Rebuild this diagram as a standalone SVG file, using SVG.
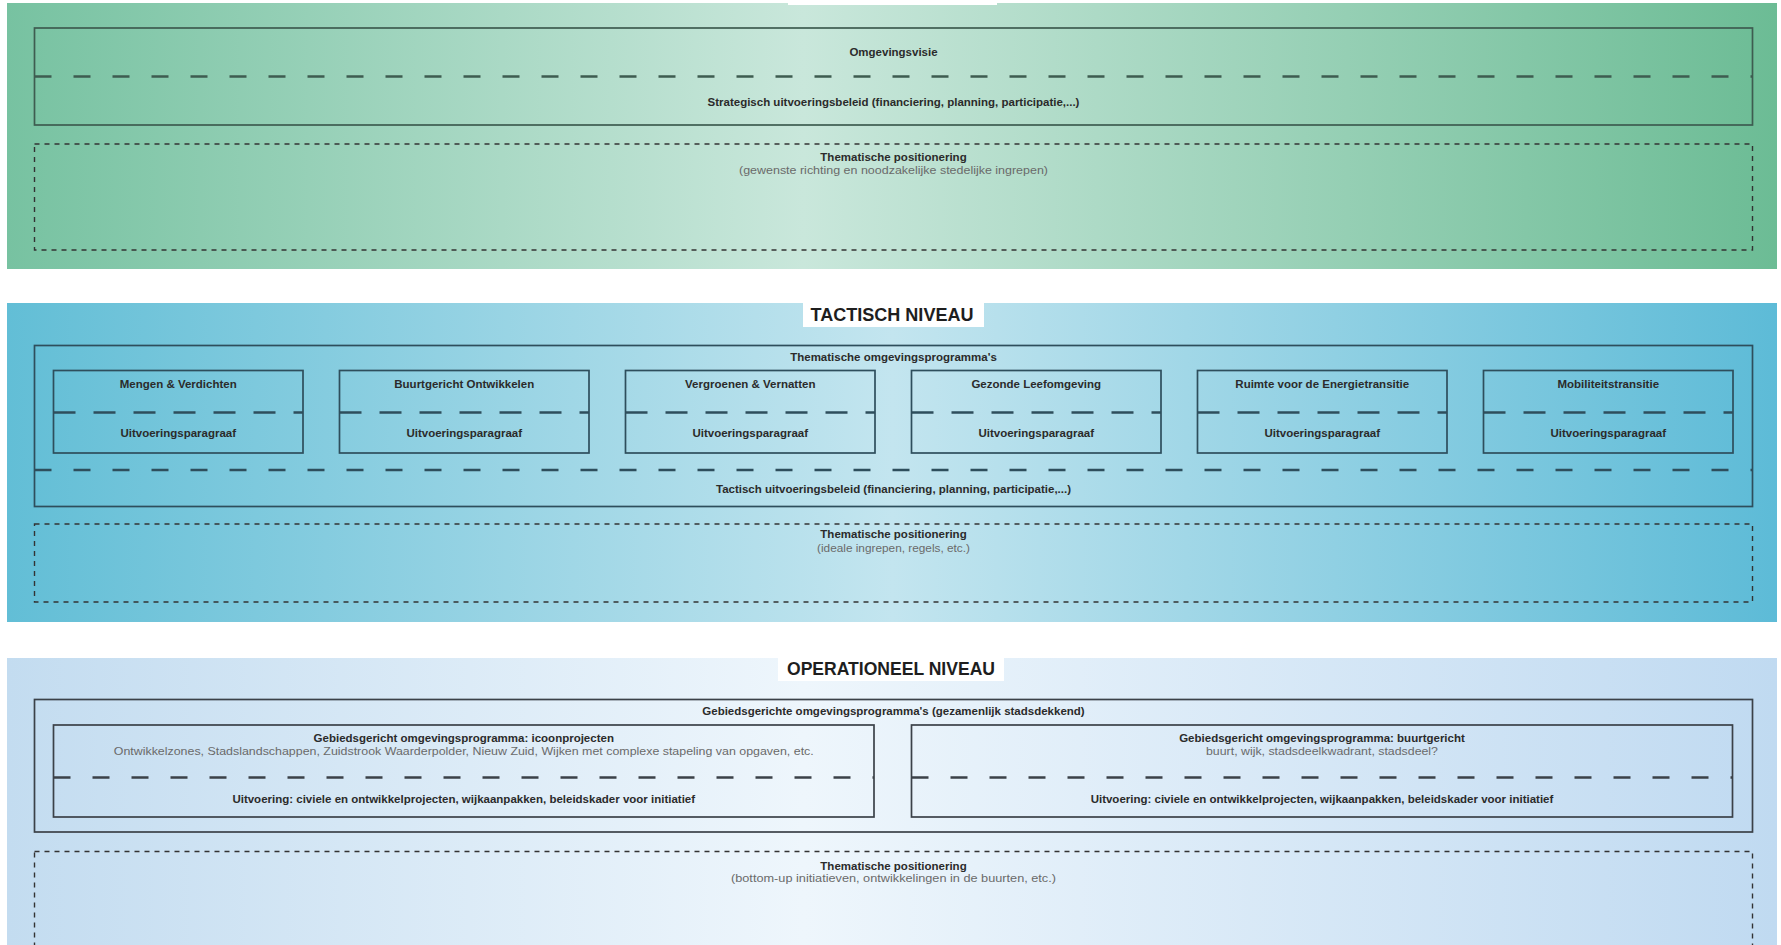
<svg xmlns="http://www.w3.org/2000/svg" width="1781" height="945" viewBox="0 0 1781 945">
<defs>
<linearGradient id="gS" x1="0" y1="0" x2="1" y2="0">
<stop offset="0" stop-color="#77c2a1"/>
<stop offset="0.45" stop-color="#c9e7db"/>
<stop offset="1" stop-color="#6cbc95"/>
</linearGradient>
<linearGradient id="gT" x1="0" y1="0" x2="1" y2="0">
<stop offset="0" stop-color="#62bed6"/>
<stop offset="0.5" stop-color="#c3e5ef"/>
<stop offset="1" stop-color="#5dbbd7"/>
</linearGradient>
<linearGradient id="gO" x1="0" y1="0" x2="1" y2="0">
<stop offset="0" stop-color="#c3dcf0"/>
<stop offset="0.45" stop-color="#eef6fc"/>
<stop offset="1" stop-color="#c0daf1"/>
</linearGradient>
</defs>
<style>
text{font-family:"Liberation Sans",Arial,sans-serif;text-anchor:middle}
.t{font-size:11.5px;font-weight:bold;fill:#2b2b2b}
.s{font-size:11.5px;font-weight:normal;fill:#6a6a6a}
.h{font-size:19px;font-weight:bold;fill:#1e1e1e}
.box{fill:none;stroke-width:1.7}
.sep{fill:none;stroke-width:2.6;stroke-dasharray:17 22}
.sep2{fill:none;stroke-width:2.4;stroke-dasharray:22 18}
.dot{fill:none;stroke:#333;stroke-width:1.4;stroke-dasharray:5 5}
.lbl{fill:#ffffff}
.cs{stroke:#3e5c50}
.ct{stroke:#2e4e5c}
.co{stroke:#3b4148}
</style>

<g id="strategisch">
<rect x="7" y="3" width="1770" height="266" fill="url(#gS)"/>
<rect class="lbl" x="788" y="-6" width="209" height="11"/>
<g id="omgevingsvisie">
<rect class="box cs" x="34.5" y="28" width="1718" height="97"/>
<line class="sep cs" x1="34.5" y1="76.5" x2="1752.5" y2="76.5"/>
<text class="t" x="893.5" y="56">Omgevingsvisie</text>
<text class="t" x="893.5" y="106">Strategisch uitvoeringsbeleid (financiering, planning, participatie,...)</text>
</g>
<g id="strategisch-positionering">
<rect class="dot" x="34.5" y="144" width="1718" height="106"/>
<text class="t" x="893.5" y="161">Thematische positionering</text>
<text class="s" x="893.5" y="174" textLength="309" lengthAdjust="spacingAndGlyphs">(gewenste richting en noodzakelijke stedelijke ingrepen)</text>
</g>
</g>

<g id="tactisch">
<rect x="7" y="303" width="1770" height="319" fill="url(#gT)"/>
<rect class="lbl" x="803" y="303" width="181" height="24"/>
<text class="h" x="892" y="321" textLength="163" lengthAdjust="spacingAndGlyphs">TACTISCH NIVEAU</text>
<g id="thematische-omgevingsprogrammas">
<rect class="box ct" x="34.5" y="345.5" width="1718" height="161"/>
<text class="t" x="893.5" y="361">Thematische omgevingsprogramma's</text>
<line class="sep ct" x1="34.5" y1="470" x2="1752.5" y2="470"/>
<text class="t" x="893.5" y="492.5">Tactisch uitvoeringsbeleid (financiering, planning, participatie,...)</text>
</g>
<g id="mengen-verdichten">
<rect class="box ct" x="53.5" y="370.5" width="249.5" height="82.5"/>
<line class="sep2 ct" x1="53.5" y1="412.5" x2="303" y2="412.5"/>
<text class="t" x="178.25" y="388">Mengen &amp; Verdichten</text>
<text class="t" x="178.25" y="437">Uitvoeringsparagraaf</text>
</g>
<g id="buurtgericht-ontwikkelen">
<rect class="box ct" x="339.5" y="370.5" width="249.5" height="82.5"/>
<line class="sep2 ct" x1="339.5" y1="412.5" x2="589" y2="412.5"/>
<text class="t" x="464.25" y="388">Buurtgericht Ontwikkelen</text>
<text class="t" x="464.25" y="437">Uitvoeringsparagraaf</text>
</g>
<g id="vergroenen-vernatten">
<rect class="box ct" x="625.5" y="370.5" width="249.5" height="82.5"/>
<line class="sep2 ct" x1="625.5" y1="412.5" x2="875" y2="412.5"/>
<text class="t" x="750.25" y="388">Vergroenen &amp; Vernatten</text>
<text class="t" x="750.25" y="437">Uitvoeringsparagraaf</text>
</g>
<g id="gezonde-leefomgeving">
<rect class="box ct" x="911.5" y="370.5" width="249.5" height="82.5"/>
<line class="sep2 ct" x1="911.5" y1="412.5" x2="1161" y2="412.5"/>
<text class="t" x="1036.25" y="388">Gezonde Leefomgeving</text>
<text class="t" x="1036.25" y="437">Uitvoeringsparagraaf</text>
</g>
<g id="energietransitie">
<rect class="box ct" x="1197.5" y="370.5" width="249.5" height="82.5"/>
<line class="sep2 ct" x1="1197.5" y1="412.5" x2="1447" y2="412.5"/>
<text class="t" x="1322.25" y="388">Ruimte voor de Energietransitie</text>
<text class="t" x="1322.25" y="437">Uitvoeringsparagraaf</text>
</g>
<g id="mobiliteitstransitie">
<rect class="box ct" x="1483.5" y="370.5" width="249.5" height="82.5"/>
<line class="sep2 ct" x1="1483.5" y1="412.5" x2="1733" y2="412.5"/>
<text class="t" x="1608.25" y="388">Mobiliteitstransitie</text>
<text class="t" x="1608.25" y="437">Uitvoeringsparagraaf</text>
</g>
<g id="tactisch-positionering">
<rect class="dot" x="34.5" y="524" width="1718" height="78"/>
<text class="t" x="893.5" y="538">Thematische positionering</text>
<text class="s" x="893.5" y="552" textLength="153" lengthAdjust="spacingAndGlyphs">(ideale ingrepen, regels, etc.)</text>
</g>
</g>

<g id="operationeel">
<rect x="7" y="658" width="1770" height="300" fill="url(#gO)"/>
<rect class="lbl" x="778" y="657" width="226" height="24"/>
<text class="h" x="891" y="675" textLength="208" lengthAdjust="spacingAndGlyphs">OPERATIONEEL NIVEAU</text>
<g id="gebiedsgerichte-programmas">
<rect class="box co" x="34.5" y="699.5" width="1718" height="132.5"/>
<text class="t" x="893.5" y="715">Gebiedsgerichte omgevingsprogramma's (gezamenlijk stadsdekkend)</text>
</g>
<g id="icoonprojecten">
<rect class="box co" x="53.5" y="725" width="820.5" height="92"/>
<line class="sep co" x1="53.5" y1="777.5" x2="874" y2="777.5"/>
<text class="t" x="463.75" y="742">Gebiedsgericht omgevingsprogramma: icoonprojecten</text>
<text class="s" x="463.75" y="755" textLength="700" lengthAdjust="spacingAndGlyphs">Ontwikkelzones, Stadslandschappen, Zuidstrook Waarderpolder, Nieuw Zuid, Wijken met complexe stapeling van opgaven, etc.</text>
<text class="t" x="463.75" y="803">Uitvoering: civiele en ontwikkelprojecten, wijkaanpakken, beleidskader voor initiatief</text>
</g>
<g id="buurtgericht">
<rect class="box co" x="911.5" y="725" width="821" height="92"/>
<line class="sep co" x1="911.5" y1="777.5" x2="1732.5" y2="777.5"/>
<text class="t" x="1322" y="742">Gebiedsgericht omgevingsprogramma: buurtgericht</text>
<text class="s" x="1322" y="755" textLength="232" lengthAdjust="spacingAndGlyphs">buurt, wijk, stadsdeelkwadrant, stadsdeel?</text>
<text class="t" x="1322" y="803">Uitvoering: civiele en ontwikkelprojecten, wijkaanpakken, beleidskader voor initiatief</text>
</g>
<g id="operationeel-positionering">
<rect class="dot" x="34.5" y="851.5" width="1718" height="120"/>
<text class="t" x="893.5" y="869.5">Thematische positionering</text>
<text class="s" x="893.5" y="882" textLength="325" lengthAdjust="spacingAndGlyphs">(bottom-up initiatieven, ontwikkelingen in de buurten, etc.)</text>
</g>
</g>

<g id="connectors"/>
</svg>
